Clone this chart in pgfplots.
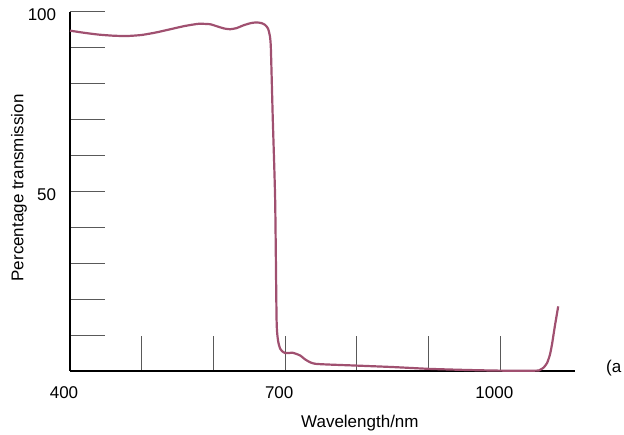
\documentclass[border=0pt]{standalone}
\usepackage{pgfplots}
\pgfplotsset{compat=1.18}
\usepackage{fontspec}
\setmainfont{Liberation Sans}
\definecolor{curve}{RGB}{160,80,112}

\begin{document}
\fontsize{17pt}{20pt}\selectfont
\begin{tikzpicture}
\useasboundingbox (-70pt,-64pt) rectangle (554pt,371pt);
\begin{axis}[
    at={(0,0)}, anchor=origin,
    scale only axis,
    width=505pt, height=359pt,
    xmin=400, xmax=1104,
    ymin=0, ymax=100,
    axis lines=left,
    axis line style={-, line width=2pt, black},
    tick align=inside,
    major tick length=35pt,
    tick style={gray!70!black, line width=1pt},
    xtick={400,500,...,1000},
    xticklabels={400,,,700,,,1000},
    ytick={10,20,...,100},
    yticklabels={,,,,50,,,,,100},
    /pgf/number format/assume math mode=true,
    tick label style={font=\fontsize{17pt}{20pt}\selectfont},
    xticklabel style={xshift=-6pt, yshift=-10pt},
    yticklabel style={xshift=-8pt, yshift=-3pt},
    xlabel={Wavelength/nm},
    ylabel={Percentage transmission},
    label style={font=\fontsize{17pt}{20pt}\selectfont},
    xlabel style={at={(axis description cs:0.574,-0.145)}, anchor=center},
    ylabel style={at={(axis description cs:-0.101,0.51)}, anchor=center},
    clip=false,
]
\addplot[color=curve, line width=2.2pt, smooth, tension=0.35, line join=round] coordinates {
(400,94.8) (420,94.2) (440,93.7) (460,93.4) (479,93.3) (500,93.6) (520,94.3)
(540,95.2) (560,96.1) (579,96.7) (595,96.6) (605,96.0) (615,95.4) (623,95.2)
(632,95.5) (642,96.3) (652,96.9) (660,97.1) (667,96.9) (672,96.4) (676,95.4)
(678.5,93.5) (680,90) (682.6,70.8) (686,47.6) (688,14.2) (690,8.5) (693,6.2)
(697,5.3) (700,5.0) (705,5.0) (710,5.1) (715,4.8) (721,4.3) (728,3.2) (735,2.4)
(742,2.0) (760,1.8) (800,1.5) (850,1.1) (900,0.6) (950,0.3) (1000,0.1)
(1050,0.1) (1055,0.3) (1060,0.9) (1065,2.2) (1069,4.5) (1072,7.5) (1076,12.6)
(1080.6,18.0)
};
\end{axis}
\node[anchor=west, inner sep=0pt] at (536pt,3pt) {(a};
\end{tikzpicture}
\end{document}
